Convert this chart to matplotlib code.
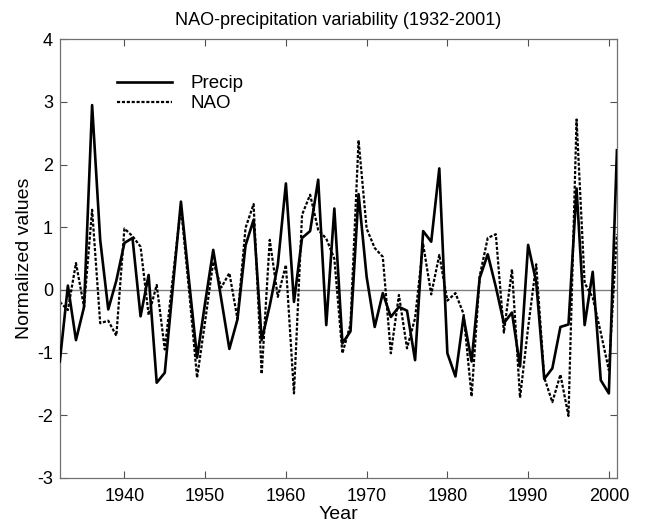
import matplotlib
matplotlib.use("Agg")
import matplotlib.pyplot as plt
import numpy as np

plt.rcParams['font.family'] = ['Liberation Sans', 'DejaVu Sans']

years = list(range(1932, 2002))
precip = [-1.14, 0.07, -0.80, -0.27, 2.95, 0.80, -0.31, 0.15, 0.75, 0.83,
          -0.42, 0.24, -1.48, -1.32, 0.05, 1.41, 0.15, -1.08, -0.20, 0.64,
          -0.15, -0.94, -0.47, 0.71, 1.12, -0.80, -0.25, 0.40, 1.70, -0.19,
          0.83, 0.94, 1.76, -0.56, 1.30, -0.85, -0.66, 1.53, 0.21, -0.59,
          -0.05, -0.43, -0.27, -0.33, -1.12, 0.94, 0.77, 1.94, -1.01, -1.38,
          -0.43, -1.14, 0.19, 0.57, 0.05, -0.53, -0.36, -1.22, 0.72, 0.13,
          -1.42, -1.25, -0.59, -0.55, 1.62, -0.56, 0.29, -1.44, -1.65, 2.23]
nao = [-0.19, -0.32, 0.43, -0.27, 1.28, -0.53, -0.49, -0.73, 0.98, 0.86,
       0.69, -0.40, 0.08, -0.95, 0.20, 1.33, 0.00, -1.40, -0.50, 0.45,
       0.04, 0.27, -0.46, 0.99, 1.37, -1.34, 0.80, -0.11, 0.40, -1.65,
       1.20, 1.52, 0.96, 0.82, 0.50, -1.01, -0.55, 2.39, 0.98, 0.67,
       0.53, -1.01, -0.08, -0.93, -0.45, 0.73, -0.07, 0.56, -0.17, -0.05,
       -0.38, -1.70, 0.22, 0.83, 0.89, -0.68, 0.33, -1.72, -0.60, 0.41,
       -1.40, -1.79, -1.35, -2.01, 2.72, 0.11, -0.12, -0.68, -1.28, 0.89]
xticks = [1940, 1950, 1960, 1970, 1980, 1990, 2000]
yticks = [-3, -2, -1, 0, 1, 2, 3, 4]

fig = plt.figure(figsize=(6.46, 5.27), dpi=100)
ax = fig.add_axes([0.0926, 0.093, 0.955 - 0.0926, 0.9254 - 0.093])

ax.axhline(0, color='#808080', lw=1.0, zorder=1)
ax.plot(years, precip, color='black', lw=1.9, ls='-', label='Precip', zorder=3)
ax.plot(years, nao, color='black', lw=1.6, ls=(0, (1.4, 0.8)), label='NAO', zorder=2)

ax.set_xlim(1932, 2001)
ax.set_ylim(-3, 4)
ax.set_xticks(xticks)
ax.set_yticks(yticks)
ax.set_yticklabels([str(v) for v in yticks])
ax.tick_params(direction='in', top=True, right=True, labelsize=13,
               length=5, width=0.8, color='#505050')
ax.tick_params(axis='x', pad=7)
ax.tick_params(axis='y', pad=5)
for s in ax.spines.values():
    s.set_color('#707070')
    s.set_linewidth(0.9)

ax.set_title('NAO-precipitation variability (1932-2001)', fontsize=13, pad=10)
ax.set_xlabel('Year', fontsize=14, labelpad=1)
ax.set_ylabel('Normalized values', fontsize=14, labelpad=3)

leg = ax.legend(loc='upper left', bbox_to_anchor=(0.09, 0.935), frameon=False,
                fontsize=13.5, handlelength=2.9, handletextpad=1.0,
                borderaxespad=0, labelspacing=0.15)

fig.savefig('out.png', dpi=100, facecolor='white')
